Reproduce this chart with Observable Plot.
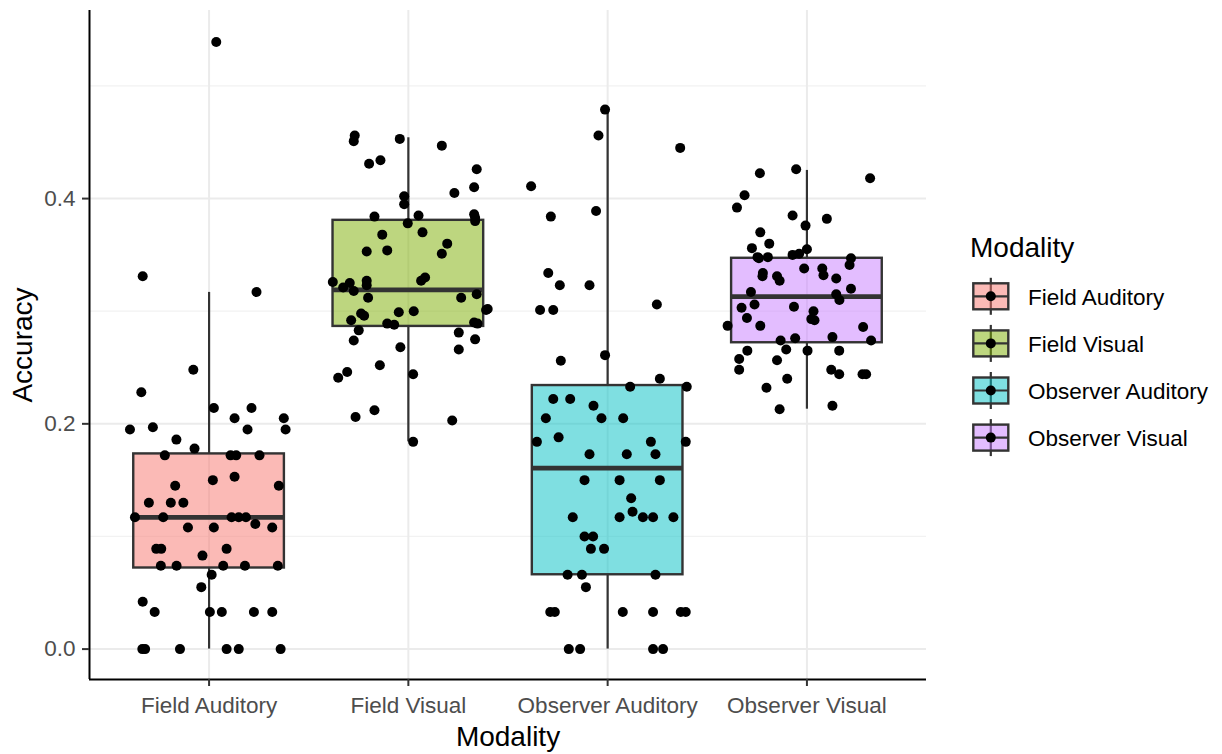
<!DOCTYPE html>
<html>
<head>
<meta charset="utf-8">
<script src="https://cdn.jsdelivr.net/npm/d3@7"></script>
<script src="https://cdn.jsdelivr.net/npm/@observablehq/plot@0.6"></script>
<style>
  html, body { margin: 0; padding: 0; background: #ffffff; }
  #chart { position: relative; width: 1222px; height: 754px; }
</style>
</head>
<body>
<div id="chart"></div>
<script>
// Conditions on the x axis, and their fill hues
const categories = ["Field Auditory", "Field Visual", "Observer Auditory", "Observer Visual"];
const colors = ["#F8766D", "#7CAE00", "#00BFC4", "#C77CFF"];

// Box summaries per condition
const whiskerLow  = [0.000, 0.184, 0.000, 0.213];
const q1          = [0.072, 0.2865, 0.066, 0.272];
const medians     = [0.117, 0.319, 0.1606, 0.313];
const q3          = [0.1733, 0.3807, 0.234, 0.347];
const whiskerHigh = [0.3167, 0.454, 0.479, 0.425];

// Axis ticks
const yTicks = [0, 0.2, 0.4];
const yMinorTicks = [0.1, 0.3, 0.5];

// Individual accuracies: [horizontal jitter (category units), accuracy]
const fieldAuditory = [
  [0.036, 0.539], [-0.333, 0.331], [0.238, 0.317], [-0.079, 0.248], [-0.340, 0.228],
  [0.024, 0.214], [0.213, 0.214], [0.128, 0.205], [0.375, 0.205], [-0.397, 0.195],
  [-0.282, 0.197], [0.193, 0.195], [0.384, 0.195], [-0.164, 0.186], [-0.073, 0.178],
  [-0.222, 0.172], [0.108, 0.172], [0.136, 0.172], [0.253, 0.172], [0.128, 0.153],
  [0.019, 0.150], [-0.170, 0.145], [0.350, 0.145], [-0.302, 0.130], [-0.192, 0.130],
  [-0.129, 0.130], [-0.372, 0.117], [-0.230, 0.117], [0.113, 0.117], [0.149, 0.117],
  [0.185, 0.117], [-0.106, 0.108], [0.024, 0.108], [0.232, 0.111], [0.317, 0.108],
  [-0.265, 0.089], [-0.240, 0.089], [0.088, 0.089], [-0.033, 0.083], [-0.242, 0.074],
  [-0.163, 0.074], [0.071, 0.074], [0.180, 0.074], [0.345, 0.074], [0.013, 0.066],
  [-0.039, 0.055], [-0.333, 0.042], [-0.273, 0.033], [0.004, 0.033], [0.064, 0.033],
  [0.225, 0.033], [0.317, 0.033], [-0.335, 0], [-0.321, 0], [-0.146, 0],
  [0.088, 0], [0.149, 0], [0.359, 0]
];
const fieldVisual = [
  [-0.269, 0.456], [-0.274, 0.451], [-0.043, 0.453], [0.168, 0.447], [-0.197, 0.431],
  [-0.140, 0.434], [0.343, 0.426], [0.330, 0.410], [0.231, 0.405], [-0.021, 0.402],
  [-0.021, 0.395], [-0.170, 0.384], [0.051, 0.385], [0.330, 0.386], [0.335, 0.383],
  [0.335, 0.380], [-0.003, 0.378], [-0.131, 0.368], [0.071, 0.370], [0.195, 0.360],
  [-0.209, 0.353], [-0.106, 0.354], [0.168, 0.351], [-0.379, 0.326], [-0.327, 0.321],
  [-0.294, 0.325], [-0.274, 0.318], [-0.209, 0.327], [-0.209, 0.323], [-0.202, 0.312],
  [0.064, 0.327], [0.084, 0.330], [0.265, 0.312], [0.343, 0.315], [0.390, 0.301],
  [0.398, 0.302], [-0.048, 0.299], [0.027, 0.300], [-0.237, 0.298], [-0.222, 0.296],
  [-0.287, 0.292], [-0.106, 0.289], [-0.071, 0.288], [0.330, 0.290], [0.347, 0.289],
  [-0.249, 0.283], [-0.274, 0.274], [0.253, 0.281], [0.335, 0.275], [-0.040, 0.268],
  [0.253, 0.266], [-0.143, 0.252], [-0.307, 0.246], [-0.352, 0.241], [0.024, 0.244],
  [-0.265, 0.206], [-0.170, 0.212], [0.220, 0.203], [0.024, 0.184]
];
const observerAuditory = [
  [-0.013, 0.479], [-0.046, 0.456], [0.364, 0.445], [-0.384, 0.411], [-0.058, 0.389],
  [-0.285, 0.384], [-0.298, 0.334], [-0.240, 0.323], [-0.091, 0.323], [-0.339, 0.301],
  [-0.273, 0.301], [0.247, 0.306], [-0.013, 0.261], [-0.235, 0.256], [0.262, 0.240],
  [0.113, 0.233], [0.397, 0.233], [-0.273, 0.222], [-0.188, 0.222], [-0.071, 0.216],
  [-0.310, 0.205], [-0.031, 0.205], [0.078, 0.205], [-0.355, 0.184], [-0.246, 0.188],
  [0.217, 0.184], [0.392, 0.184], [-0.091, 0.173], [0.096, 0.173], [0.240, 0.173],
  [-0.116, 0.150], [0.060, 0.150], [0.262, 0.150], [0.118, 0.134], [0.125, 0.122],
  [-0.175, 0.117], [0.060, 0.117], [0.177, 0.117], [0.228, 0.117], [0.330, 0.117],
  [-0.116, 0.100], [-0.073, 0.100], [-0.084, 0.089], [-0.018, 0.089], [-0.201, 0.066],
  [-0.129, 0.066], [0.240, 0.066], [-0.109, 0.055], [-0.288, 0.033], [-0.265, 0.033],
  [0.076, 0.033], [0.228, 0.033], [0.367, 0.033], [0.392, 0.033], [-0.195, 0],
  [-0.138, 0], [0.228, 0], [0.278, 0]
];
const observerVisual = [
  [-0.236, 0.4225], [-0.054, 0.426], [0.317, 0.418], [-0.313, 0.403], [-0.351, 0.392],
  [-0.072, 0.385], [0.100, 0.382], [-0.007, 0.376], [-0.234, 0.370], [-0.189, 0.360],
  [-0.276, 0.356], [-0.248, 0.348], [-0.241, 0.347], [-0.196, 0.348], [-0.072, 0.350],
  [-0.039, 0.351], [0.000, 0.355], [0.221, 0.347], [0.214, 0.341], [-0.014, 0.338],
  [0.077, 0.338], [0.083, 0.332], [-0.221, 0.334], [-0.223, 0.331], [-0.150, 0.331],
  [-0.137, 0.327], [0.147, 0.329], [0.221, 0.320], [-0.281, 0.317], [0.147, 0.315],
  [0.163, 0.310], [-0.263, 0.306], [-0.065, 0.304], [-0.328, 0.303], [0.033, 0.300],
  [0.022, 0.293], [0.038, 0.292], [-0.301, 0.294], [-0.398, 0.287], [-0.234, 0.287],
  [0.282, 0.286], [-0.132, 0.274], [-0.059, 0.276], [0.128, 0.277], [0.322, 0.274],
  [-0.299, 0.265], [-0.104, 0.266], [0.003, 0.265], [0.162, 0.265], [-0.340, 0.2575],
  [-0.150, 0.2565], [-0.340, 0.248], [0.122, 0.248], [0.162, 0.244], [0.279, 0.244],
  [0.297, 0.244], [-0.099, 0.240], [-0.203, 0.232], [-0.137, 0.213], [0.128, 0.216]
];
const groups = [fieldAuditory, fieldVisual, observerAuditory, observerVisual];

// Tables for the marks
const boxes = categories.map((name, i) => ({
  name, pos: i + 1,
  lo: whiskerLow[i], q1: q1[i], median: medians[i], q3: q3[i], hi: whiskerHigh[i]
}));
const points = groups.flatMap((g, i) =>
  g.map(([jitter, accuracy]) => ({name: categories[i], pos: i + 1 + jitter, accuracy})));

const halfBox = 0.378;
const dotRadius = 5;
const xDomain = [0.4, 4.6];
const yDomain = [-0.027, 0.567];
const font = "'Liberation Sans', Arial, sans-serif";

const plot = Plot.plot({
  width: 1222,
  height: 754,
  marginLeft: 89,
  marginRight: 296,
  marginTop: 10,
  marginBottom: 75,
  style: {fontFamily: font, background: "#ffffff"},
  x: {type: "linear", domain: xDomain, axis: null},
  y: {type: "linear", domain: yDomain, axis: null},
  color: {domain: categories, range: colors},
  marks: [
    // grid
    Plot.gridY(yMinorTicks, {stroke: "#F2F2F2", strokeOpacity: 1, strokeWidth: 1.3}),
    Plot.gridY(yTicks, {stroke: "#EBEBEB", strokeOpacity: 1, strokeWidth: 2}),
    Plot.gridX(categories.map((c, i) => i + 1), {stroke: "#EBEBEB", strokeOpacity: 1, strokeWidth: 2}),
    // whiskers
    Plot.ruleX(boxes, {x: "pos", y1: "lo", y2: "q1", stroke: "#333333", strokeWidth: 2.2}),
    Plot.ruleX(boxes, {x: "pos", y1: "q3", y2: "hi", stroke: "#333333", strokeWidth: 2.2}),
    // boxes
    Plot.rect(boxes, {
      x1: d => d.pos - halfBox, x2: d => d.pos + halfBox, y1: "q1", y2: "q3",
      fill: "name", fillOpacity: 0.5, stroke: "#333333", strokeWidth: 2.4
    }),
    Plot.ruleY(boxes, {
      y: "median", x1: d => d.pos - halfBox, x2: d => d.pos + halfBox,
      stroke: "#333333", strokeWidth: 4.8
    }),
    // jittered observations
    Plot.dot(points, {x: "pos", y: "accuracy", r: dotRadius, fill: "#000000", stroke: "none"}),
    // axis lines
    Plot.ruleX([xDomain[0]], {stroke: "#000000", strokeWidth: 2}),
    Plot.ruleY([yDomain[0]], {stroke: "#000000", strokeWidth: 2}),
    // axes
    Plot.axisY(yTicks, {
      tickFormat: d3.format(".1f"), tickSize: 7, tickPadding: 7,
      stroke: "#333333", strokeWidth: 2, fill: "#4D4D4D",
      fontSize: 22.5, label: null
    }),
    Plot.axisX(categories.map((c, i) => i + 1), {
      tickFormat: d => categories[d - 1], tickSize: 7, tickPadding: 11,
      stroke: "#333333", strokeWidth: 2, fill: "#4D4D4D",
      fontSize: 22.5, label: null
    }),
    // axis titles
    Plot.text(["Accuracy"], {
      text: d => d, frameAnchor: "left", dx: -66, rotate: -90,
      textAnchor: "middle", lineAnchor: "middle",
      fontSize: 28, fill: "#000000"
    }),
    Plot.text(["Modality"], {
      text: d => d, frameAnchor: "bottom", dy: 58,
      textAnchor: "middle", lineAnchor: "middle",
      fontSize: 28, fill: "#000000"
    })
  ]
});

document.getElementById("chart").appendChild(plot);

// Legend: boxplot keys on the right
const svg = d3.select(plot);
const legend = svg.append("g")
  .attr("font-family", font)
  .attr("text-anchor", "start");
legend.append("text")
  .attr("x", 970).attr("y", 257)
  .attr("font-size", 28).attr("fill", "#000000")
  .text("Modality");
const keyX = 973.3, keyW = 35, keyH = 26, keyStep = 47.1, firstCy = 296.3;
categories.forEach((name, i) => {
  const cy = firstCy + i * keyStep;
  const cx = keyX + keyW / 2;
  const g = legend.append("g");
  g.append("line").attr("x1", cx).attr("x2", cx)
    .attr("y1", cy - 18.5).attr("y2", cy + 18.5)
    .attr("stroke", "#333333").attr("stroke-width", 2.2);
  g.append("rect").attr("x", keyX).attr("y", cy - keyH / 2)
    .attr("width", keyW).attr("height", keyH)
    .attr("fill", colors[i]).attr("fill-opacity", 0.5)
    .attr("stroke", "#333333").attr("stroke-width", 2.4);
  g.append("line").attr("x1", keyX).attr("x2", keyX + keyW)
    .attr("y1", cy).attr("y2", cy)
    .attr("stroke", "#333333").attr("stroke-width", 2.2);
  g.append("circle").attr("cx", cx).attr("cy", cy).attr("r", dotRadius).attr("fill", "#000000");
  g.append("text").attr("x", 1028).attr("y", cy + 8.5)
    .attr("font-size", 22.5).attr("fill", "#000000")
    .text(name);
});
</script>
</body>
</html>
